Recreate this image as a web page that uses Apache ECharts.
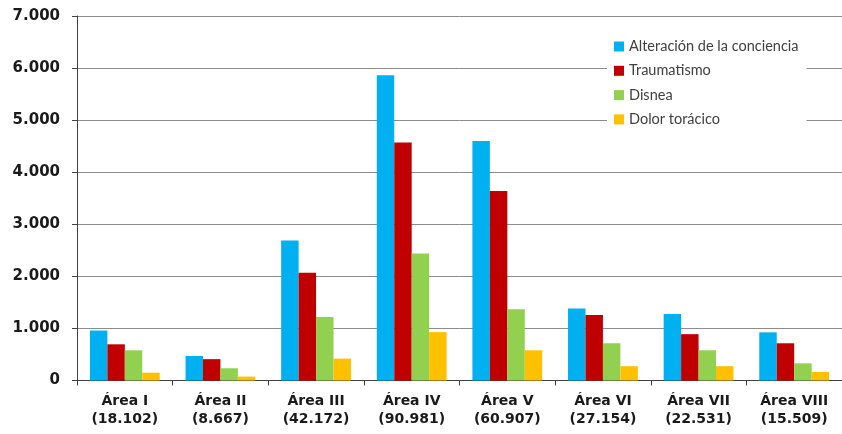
<!DOCTYPE html>
<html>
<head>
<meta charset="utf-8">
<script src="https://cdn.jsdelivr.net/npm/echarts@6/dist/echarts.min.js"></script>
<style>html,body{margin:0;padding:0;background:#fff}#c{width:842px;height:434px}</style>
</head>
<body>
<div id="c"></div>
<script>
const categories = ['Área I\n(18.102)', 'Área II\n(8.667)', 'Área III\n(42.172)', 'Área IV\n(90.981)', 'Área V\n(60.907)', 'Área VI\n(27.154)', 'Área VII\n(22.531)', 'Área VIII\n(15.509)'];
const seriesNames = ['Alteración de la conciencia', 'Traumatismo', 'Disnea', 'Dolor torácico'];
const alteracion = [960, 470, 2690, 5860, 4600, 1385, 1275, 925];
const traumatismo = [695, 410, 2070, 4570, 3640, 1260, 890, 715];
const disnea = [580, 235, 1220, 2440, 1370, 715, 580, 330];
const dolor = [150, 75, 420, 930, 580, 275, 275, 165];
const yTicks = { min: 0, max: 7000, interval: 1000 };
const colors = ['#00B0F0', '#C00000', '#92D050', '#FFC000'];

const chart = echarts.init(document.getElementById('c'), null, { renderer: 'canvas' });
const dataSets = [alteracion, traumatismo, disnea, dolor];
chart.setOption({
  animation: false,
  backgroundColor: '#ffffff',
  grid: { left: 77, top: 16, width: 770, bottom: 53.5, containLabel: false },
  legend: {
    orient: 'vertical',
    left: 607,
    top: 31,
    padding: [8, 8, 8, 7],
    backgroundColor: '#ffffff',
    itemWidth: 10,
    itemHeight: 10,
    itemGap: 9.3,
    icon: 'rect',
    textStyle: { fontFamily: 'Lato', fontSize: 14.5, color: '#404040', lineHeight: 14 },
    data: seriesNames
  },
  xAxis: {
    type: 'category',
    data: categories,
    axisLine: { lineStyle: { color: '#404040', width: 1 } },
    axisTick: { show: true, length: 5, lineStyle: { color: '#404040' } },
    axisLabel: {
      margin: 12,
      fontFamily: 'DejaVu Sans',
      fontWeight: 'bold',
      fontSize: 14,
      lineHeight: 18,
      color: '#1a1a1a',
      interval: 0
    }
  },
  yAxis: {
    type: 'value',
    min: yTicks.min,
    max: yTicks.max,
    interval: yTicks.interval,
    axisLine: { show: true, lineStyle: { color: '#404040', width: 1 } },
    axisTick: { show: true, length: 5, lineStyle: { color: '#404040' } },
    splitLine: { lineStyle: { color: '#8c8c8c', width: 1 } },
    axisLabel: {
      margin: 17,
      fontFamily: 'DejaVu Sans',
      fontWeight: 'bold',
      fontSize: 15,
      color: '#1a1a1a',
      formatter: function (v) { return v.toString().replace(/\B(?=(\d{3})+(?!\d))/g, '.'); }
    }
  },
  series: seriesNames.map(function (name, i) {
    return {
      name: name,
      type: 'bar',
      data: dataSets[i],
      barGap: '0%',
      barCategoryGap: '27%',
      itemStyle: { color: colors[i] },
      z: 3
    };
  })
});
</script>
</body>
</html>
